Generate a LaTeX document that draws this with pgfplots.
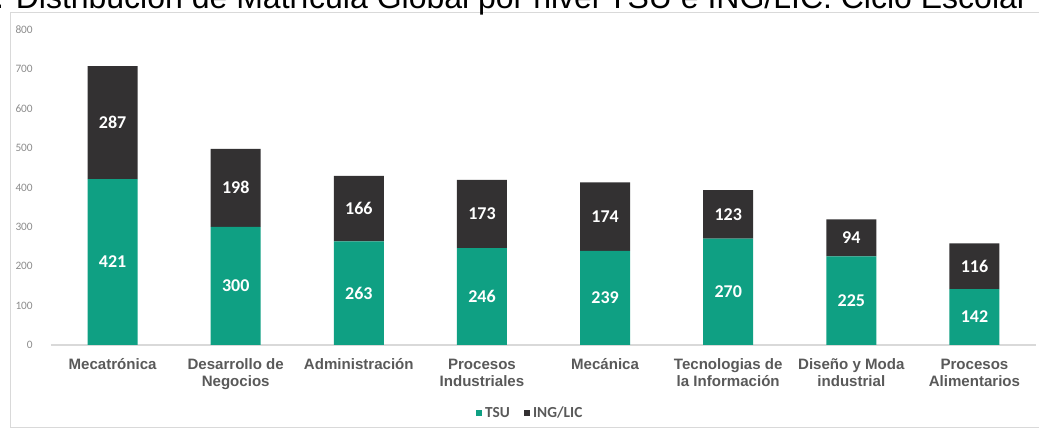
\documentclass[border=0pt]{standalone}
\usepackage{fontspec}
\setmainfont{Liberation Sans}
\newfontfamily\calibri{Carlito}
\usepackage{pgfplots}
\usepackage{pgfplotstable}
\pgfplotsset{compat=1.18}

\definecolor{tsu}{HTML}{0FA083}
\definecolor{ing}{HTML}{333132}
\definecolor{catgray}{HTML}{595959}
\definecolor{tickgray}{HTML}{8C8C8C}
\definecolor{framegray}{HTML}{D9D9D9}

% matricula por carrera: TSU e ING/LIC
\pgfplotstableread{
x tsu ing
0 421 287
1 300 198
2 263 166
3 246 173
4 239 174
5 270 123
6 225 94
7 142 116
}\matricula

\begin{document}
\begin{tikzpicture}
\begin{scope}[x=0.75pt,y=0.75pt]
\useasboundingbox (0,0) rectangle (1039,431);
\draw[framegray, line width=0.75pt] (10,3) rectangle (1060,418);
\node[anchor=base west, inner sep=0pt, font=\fontsize{24}{28}\selectfont] at (-23,422)
  {1. Distribución de Matrícula Global por nivel TSU e ING/LIC. Ciclo Escolar};
\end{scope}

\begin{axis}[
    at={(38.25pt,64.5pt)}, anchor=south west,
    scale only axis, width=738.75pt, height=236.4pt,
    ybar stacked, bar width=37.5pt,
    xmin=-0.5, xmax=7.5, ymin=0, ymax=800,
    axis x line*=bottom, axis y line*=left,
    x axis line style={draw=framegray, line width=0.9pt, -},
    y axis line style={draw=none},
    tick style={draw=none},
    xtick={0,...,7},
    xticklabels={{\strut Mecatrónica},{\strut Desarrollo de\\Negocios},{\strut Administración},
      {\strut Procesos\\Industriales},{\strut Mecánica},{\strut Tecnologias de\\la Información},
      {\strut Diseño y Moda\\industrial},{\strut Procesos\\Alimentarios}},
    xticklabel style={align=center, inner sep=0pt, yshift=-9pt, text=catgray,
      font=\bfseries\fontsize{11.3}{13.1}\selectfont},
    ytick={0,100,...,800},
    /pgf/number format/assume math mode=true,
    yticklabel style={font=\calibri\fontsize{8.5}{10}\selectfont, text=tickgray,
      anchor=east, inner sep=0pt, xshift=-13.5pt},
    legend style={at={(0.487,-0.216)}, anchor=center, draw=none, fill=none,
      legend columns=2, font=\calibri\bfseries\fontsize{11.5}{13}\selectfont, text=catgray,
      /tikz/every even column/.append style={column sep=9pt}},
    legend image code/.code={\fill[#1] (0pt,-2.25pt) rectangle (4.5pt,2.25pt);},
]
\addplot[fill=tsu, draw=none] table[x=x, y=tsu] \matricula;
\addlegendentry{TSU}
\addplot[fill=ing, draw=none] table[x=x, y=ing] \matricula;
\addlegendentry{ING/LIC}
\end{axis}

\begin{axis}[
    at={(38.25pt,64.5pt)}, anchor=south west,
    scale only axis, width=738.75pt, height=236.4pt,
    xmin=-0.5, xmax=7.5, ymin=0, ymax=800,
    hide axis, clip=false,
    /pgf/number format/assume math mode=true,
    nodes near coords style={font=\calibri\bfseries\fontsize{13.5}{15}\selectfont,
      text=white, anchor=center},
]
\addplot[draw=none, mark=none, nodes near coords, point meta=explicit]
  table[x=x, y expr=\thisrow{tsu}/2, meta=tsu] \matricula;
\addplot[draw=none, mark=none, nodes near coords, point meta=explicit]
  table[x=x, y expr=\thisrow{tsu}+\thisrow{ing}/2, meta=ing] \matricula;
\end{axis}
\end{tikzpicture}
\end{document}
